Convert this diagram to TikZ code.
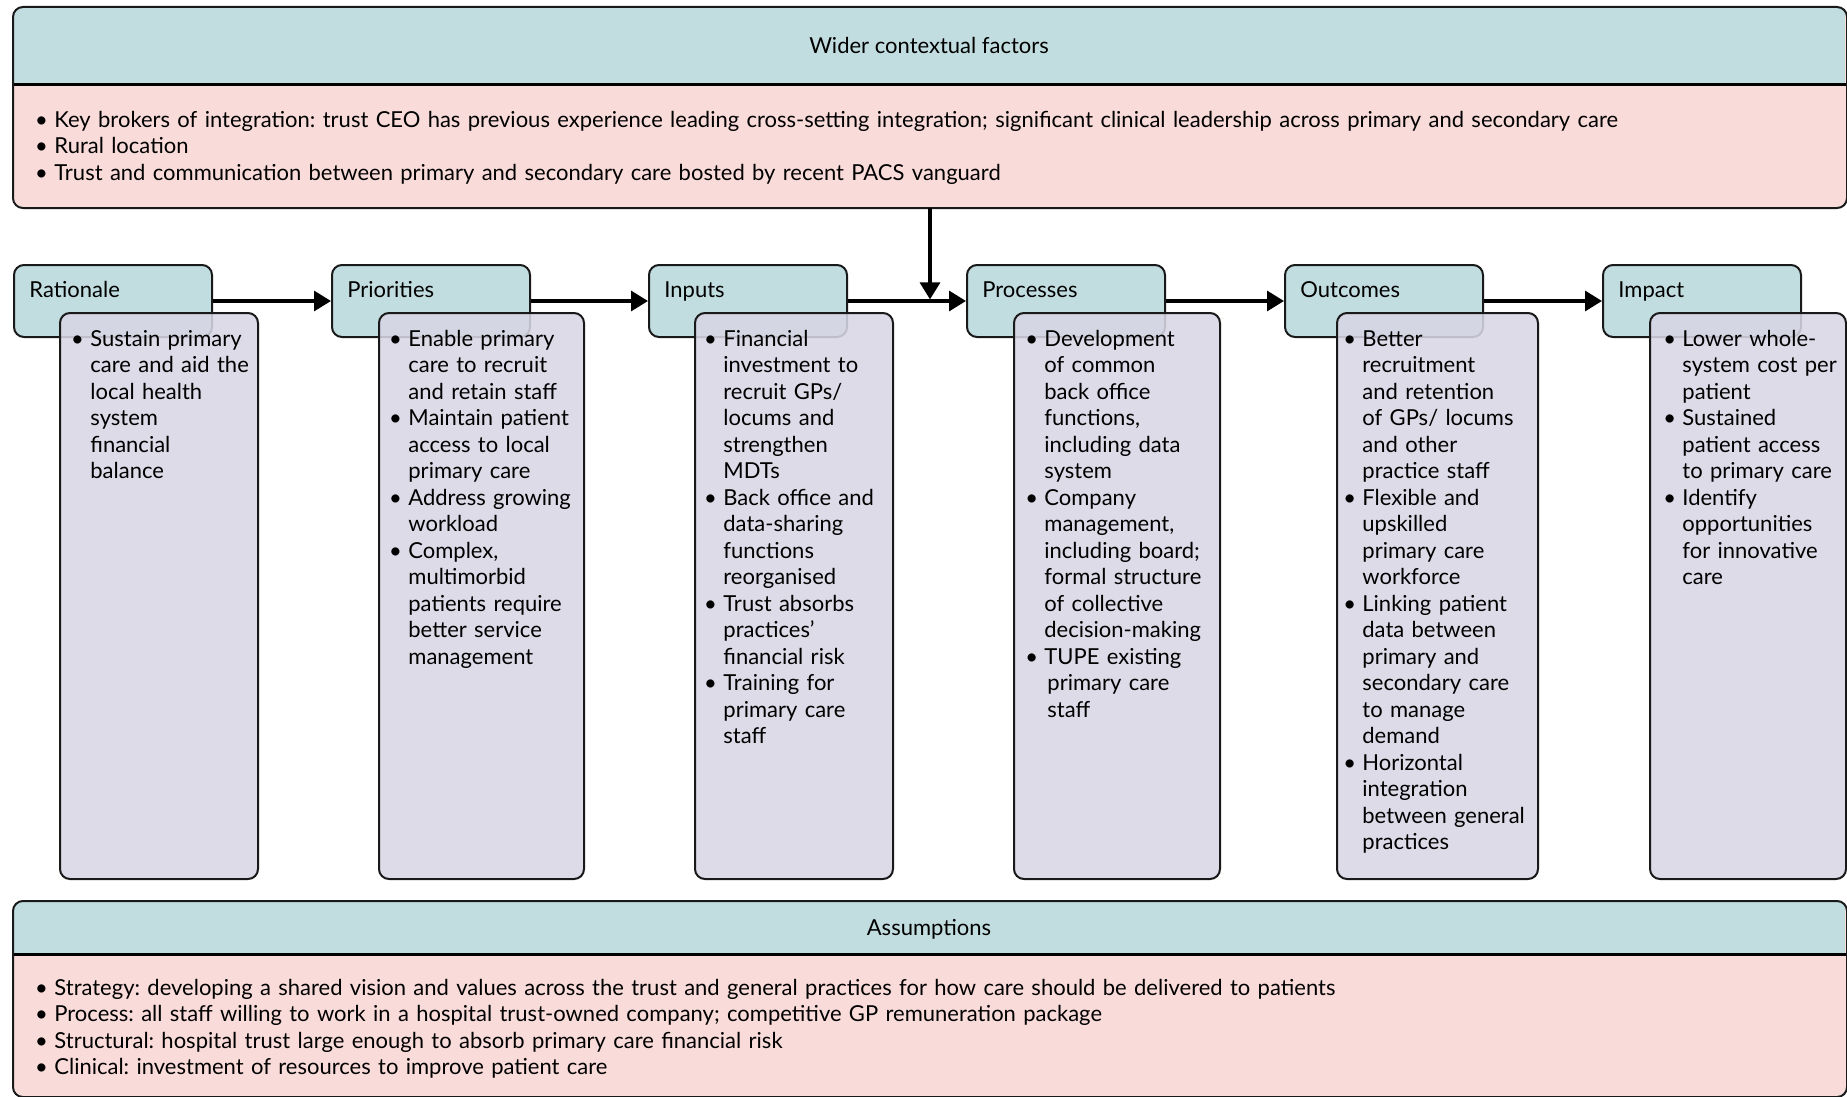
\documentclass[tikz,border=0pt]{standalone}
\usepackage{fontspec}
\setmainfont{Lato}
\usetikzlibrary{arrows.meta}
\definecolor{headteal}{RGB}{194,221,224}
\definecolor{ctxpink}{RGB}{249,220,218}
\definecolor{bodylav}{RGB}{215,214,228}
\newcommand\bodyfont{\fontsize{11}{13.25}\selectfont}
\newcommand\itm{\leavevmode\llap{\textbullet\hskip 3.2pt}}
\frenchspacing
\tikzset{
  panel/.style={draw=black!90, line width=1pt, rounded corners=5pt, inner sep=0pt, anchor=north west},
  headbox/.style={panel, fill=headteal, minimum width=99pt, minimum height=36pt},
  bodybox/.style={panel, fill=bodylav, fill opacity=0.88, minimum height=283pt},
  headtxt/.style={anchor=base west, inner sep=0pt, font=\bodyfont},
  titletxt/.style={anchor=base, inner sep=0pt, font=\bodyfont},
  listtxt/.style={anchor=base west, inner sep=0pt, text width=115pt, align=left, font=\bodyfont},
  widetxt/.style={anchor=base west, inner sep=0pt, text width=880pt, align=left, font=\bodyfont},
  flow/.style={line width=1.6pt, -{Triangle[length=8.5pt,width=10pt]}},
}
\begin{document}
\begin{tikzpicture}[x=0.5pt, y=-0.5pt]
\useasboundingbox (0,0) rectangle (1847,1097);

% ---- wider contextual factors panel ----
\node[panel, draw=none, fill=ctxpink, minimum width=916pt, minimum height=99.5pt] (ctx) at (13,7) {};
\begin{scope}
  \clip[rounded corners=5pt] (ctx.north west) rectangle (ctx.south east);
  \fill[headteal] (ctx.north west) rectangle (1845,85);
\end{scope}
\draw[line width=1.5pt] (ctx.west |- 0,85) -- (ctx.east |- 0,85);
\draw[line width=1pt, draw=black!90, rounded corners=5pt] (ctx.north west) rectangle (ctx.south east);
\node[titletxt] (ctxtitle) at (929,54) {Wider contextual factors};
\node[widetxt] (ctxlist) at (54,127) {%
\itm Key brokers of integration: trust CEO has previous experience leading cross-setting integration; significant clinical leadership across primary and secondary care\\
\itm Rural location\\
\itm Trust and communication between primary and secondary care bosted by recent PACS vanguard};

% ---- stage headers ----
\node[headbox] (hRat) at (13,264) {};
\node[headbox] (hPri) at (331,264) {};
\node[headbox] (hInp) at (648,264) {};
\node[headbox] (hPro) at (966,264) {};
\node[headbox] (hOut) at (1284,264) {};
\node[headbox] (hImp) at (1602,264) {};
\node[headtxt] (tRat) at (29,297) {Rationale};
\node[headtxt] (tPri) at (347,297) {Priorities};
\node[headtxt] (tInp) at (664,297) {Inputs};
\node[headtxt] (tPro) at (982,297) {Processes};
\node[headtxt] (tOut) at (1300,297) {Outcomes};
\node[headtxt] (tImp) at (1618,297) {Impact};

% ---- flow arrows ----
\draw[flow] (hRat.east) -- (hPri.west);
\draw[flow] (hPri.east) -- (hInp.west);
\draw[flow] (hInp.east) -- (hPro.west);
\draw[flow] (hPro.east) -- (hOut.west);
\draw[flow] (hOut.east) -- (hImp.west);
\coordinate (join) at ([yshift=0.8pt]ctx.south |- hInp.east);
\draw[flow] (ctx.south) -- (join);

% ---- stage bodies ----
\node[bodybox, minimum width=99pt] (bRat) at (59,312) {};
\node[bodybox, minimum width=102.5pt] (bPri) at (378,312) {};
\node[bodybox, minimum width=99pt] (bInp) at (694,312) {};
\node[bodybox, minimum width=103pt] (bPro) at (1013,312) {};
\node[bodybox, minimum width=100.5pt] (bOut) at (1336,312) {};
\node[bodybox, minimum width=98pt] (bImp) at (1649,312) {};

\node[listtxt] (lRat) at (90,346) {%
\itm Sustain primary\\care and aid the\\local health\\system\\financial\\balance};
\node[listtxt] (lPri) at (408,346) {%
\itm Enable primary\\care to recruit\\and retain staff\\
\itm Maintain patient\\access to local\\primary care\\
\itm Address growing\\workload\\
\itm Complex,\\multimorbid\\patients require\\better service\\management};
\node[listtxt] (lInp) at (723,346) {%
\itm Financial\\investment to\\recruit GPs/\\locums and\\strengthen\\MDTs\\
\itm Back office and\\data-sharing\\functions\\reorganised\\
\itm Trust absorbs\\practices’\\financial risk\\
\itm Training for\\primary care\\staff};
\node[listtxt] (lPro) at (1044,346) {%
\itm Development\\of common\\back office\\functions,\\including data\\system\\
\itm Company\\management,\\including board;\\formal structure\\of collective\\decision-making\\
\itm TUPE existing\\\hspace*{1.5pt}primary care\\\hspace*{1.5pt}staff};
\node[listtxt] (lOut) at (1362,346) {%
\itm Better\\recruitment\\and retention\\of GPs/ locums\\and other\\practice staff\\
\itm Flexible and\\upskilled\\primary care\\workforce\\
\itm Linking patient\\data between\\primary and\\secondary care\\to manage\\demand\\
\itm Horizontal\\integration\\between general\\practices};
\node[listtxt] (lImp) at (1682,346) {%
\itm Lower whole-\\system cost per\\patient\\
\itm Sustained\\patient access\\to primary care\\
\itm Identify\\opportunities\\for innovative\\care};

% ---- assumptions panel ----
\node[panel, draw=none, fill=ctxpink, minimum width=916pt, minimum height=97pt] (asm) at (13,901) {};
\begin{scope}
  \clip[rounded corners=5pt] (asm.north west) rectangle (asm.south east);
  \fill[headteal] (asm.north west) rectangle (1845,954);
\end{scope}
\draw[line width=1.5pt] (asm.west |- 0,954) -- (asm.east |- 0,954);
\draw[line width=1pt, draw=black!90, rounded corners=5pt] (asm.north west) rectangle (asm.south east);
\node[titletxt] (asmtitle) at (929,935) {Assumptions};
\node[widetxt] (asmlist) at (54,995) {%
\itm Strategy: developing a shared vision and values across the trust and general practices for how care should be delivered to patients\\
\itm Process: all staff willing to work in a hospital trust-owned company; competitive GP remuneration package\\
\itm Structural: hospital trust large enough to absorb primary care financial risk\\
\itm Clinical: investment of resources to improve patient care};
\end{tikzpicture}
\end{document}
